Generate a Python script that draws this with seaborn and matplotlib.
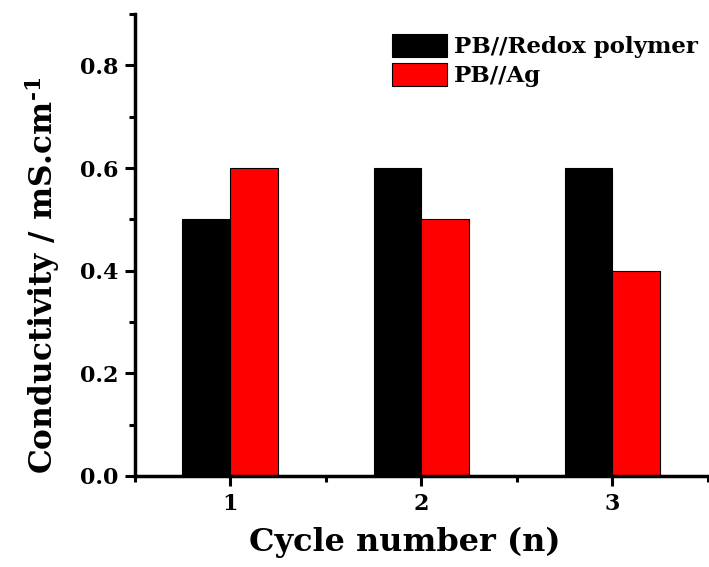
import matplotlib
matplotlib.use("Agg")
import matplotlib.pyplot as plt
import seaborn as sns
import pandas as pd
from matplotlib.ticker import FixedLocator, MultipleLocator

cycles = ["1", "2", "3"]
redox_polymer = [0.5, 0.6, 0.6]
ag = [0.6, 0.5, 0.4]
series_names = ["PB//Redox polymer", "PB//Ag"]
colors = ["#000000", "#ff0000"]

df = pd.DataFrame({
    "cycle": cycles * 2,
    "value": redox_polymer + ag,
    "series": [series_names[0]] * 3 + [series_names[1]] * 3,
})

sns.set_theme(style="ticks")
plt.rcParams["font.family"] = ["DejaVu Serif"]
plt.rcParams["font.weight"] = "bold"
plt.rcParams["text.color"] = "black"
plt.rcParams["axes.labelcolor"] = "black"
plt.rcParams["mathtext.fontset"] = "custom"
plt.rcParams["mathtext.bf"] = "DejaVu Serif:bold"
plt.rcParams["mathtext.rm"] = "DejaVu Serif:bold"

fig = plt.figure(figsize=(7.09, 5.67), dpi=100)
ax = fig.add_axes([0.19, 0.1605, 0.8086, 0.8145])

sns.barplot(data=df, x="cycle", y="value", hue="series", palette=colors,
            width=0.5, edgecolor="black", linewidth=0.8, saturation=1, ax=ax)

ax.set_xlim(-0.5, 2.5)
ax.set_ylim(0, 0.9)
ax.yaxis.set_major_locator(FixedLocator([0.0, 0.2, 0.4, 0.6, 0.8]))
ax.yaxis.set_minor_locator(MultipleLocator(0.1))
ax.xaxis.set_minor_locator(FixedLocator([-0.5, 0.5, 1.5, 2.5]))
ax.set_yticklabels(["0.0", "0.2", "0.4", "0.6", "0.8"])

for s in ["top", "right"]:
    ax.spines[s].set_visible(False)
for s in ["left", "bottom"]:
    ax.spines[s].set_linewidth(2.5)
    ax.spines[s].set_color("black")

ax.tick_params(axis="both", which="major", direction="out", length=7, width=2.2,
               labelsize=16, colors="black", labelcolor="black", pad=5)
ax.tick_params(axis="both", which="minor", direction="out", length=4, width=2.2,
               colors="black")
for lab in ax.get_xticklabels() + ax.get_yticklabels():
    lab.set_fontweight("bold")

ax.set_xlabel("Cycle number (n)", fontsize=23, fontweight="bold", color="black")
ax.set_ylabel("Conductivity / mS.cm$^{\\mathbf{\u20101}}$", fontsize=22.5,
              fontweight="bold", color="black")
ax.xaxis.set_label_coords(0.471, -0.11)
ax.yaxis.set_label_coords(-0.127, 0.435)

leg = ax.legend(loc="upper right", bbox_to_anchor=(1.0, 0.98), frameon=False,
                fontsize=16.5, handlelength=2.4, handleheight=1.2, handletextpad=0.3,
                labelspacing=0.2, borderaxespad=0.05)
for t in leg.get_texts():
    t.set_fontweight("bold")
    t.set_color("black")

fig.savefig("out.png", dpi=100)
